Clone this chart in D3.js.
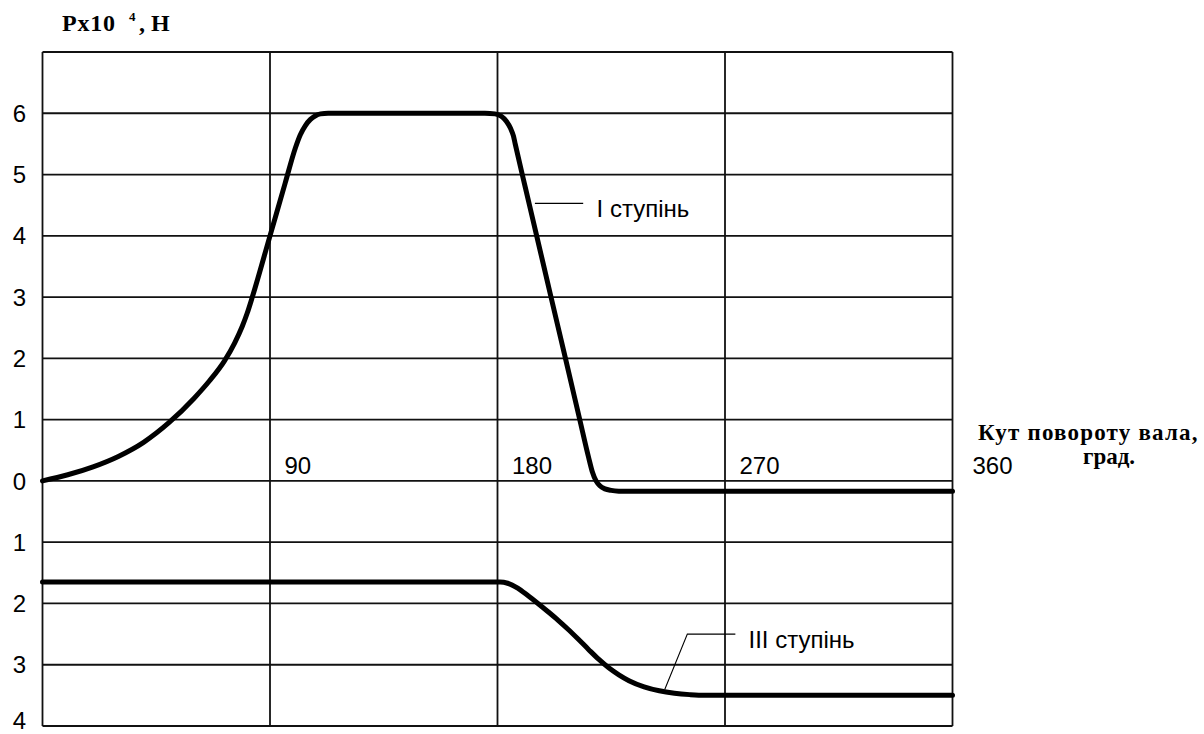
<!DOCTYPE html>
<html>
<head>
<meta charset="utf-8">
<script src="https://cdn.jsdelivr.net/npm/d3@7"></script>
<style>
  html, body { margin: 0; padding: 0; background: #fff; }
  svg { display: block; }
</style>
</head>
<body>
<svg id="chart" width="1204" height="734"></svg>
<script>
// Shaft rotation angle, degrees
const angleTicks = [90, 180, 270, 360];
// Force grid levels, x10^4 N (negative = below zero line)
const forceLevels = [-4, -3, -2, -1, 0, 1, 2, 3, 4, 5, 6, 7];
const forceTickLabels = [
  { v: 6, t: "6" }, { v: 5, t: "5" }, { v: 4, t: "4" }, { v: 3, t: "3" },
  { v: 2, t: "2" }, { v: 1, t: "1" }, { v: 0, t: "0" }, { v: -1, t: "1" },
  { v: -2, t: "2" }, { v: -3, t: "3" }, { v: -4, t: "4" }
];

// Stage I force vs angle
const stage1Angle = [0, 10, 20, 30, 40, 50, 60, 66, 72, 76, 79, 81, 83,
  90, 96, 100, 102, 104, 106, 108, 110, 113, 116, 150, 175, 179, 181.5, 183.5, 185.2, 186.3, 187,
  191, 195.5, 201, 207, 212.6, 216, 217.5, 219, 220.5, 222.5, 225, 228, 232, 270, 360];
const stage1Force = [0, 0.1, 0.23, 0.4, 0.63, 0.95, 1.35, 1.63, 1.96, 2.25, 2.52, 2.74, 3.0,
  4.0, 4.86, 5.43, 5.65, 5.8, 5.9, 5.96, 5.99, 6.0, 6.0, 6.0, 6.0, 5.99, 5.95, 5.87, 5.75, 5.63, 5.5,
  4.79, 4.0, 3.03, 1.98, 0.99, 0.39, 0.15, 0.0, -0.08, -0.13, -0.155, -0.167, -0.17, -0.17, -0.17];

// Stage III force vs angle
const stage3Angle = [0, 90, 178, 181, 184, 188, 192, 196, 200, 204, 208, 212, 216, 220,
  224, 228, 232, 238, 244, 250, 256, 262, 300, 360];
const stage3Force = [-1.65, -1.65, -1.65, -1.65, -1.67, -1.75, -1.87, -2.0, -2.135, -2.275, -2.425,
  -2.585, -2.75, -2.91, -3.05, -3.165, -3.26, -3.36, -3.425, -3.465, -3.488, -3.5, -3.5, -3.5];

const svg = d3.select("#chart");

const x = d3.scaleLinear().domain([0, 360]).range([42.5, 952.5]);
const y = d3.scaleLinear().domain([-4, 7]).range([726, 52]);

const sans = "Arial, 'Liberation Sans', Helvetica, sans-serif";
const serif = "'Times New Roman', 'Liberation Serif', serif";

// grid
const grid = svg.append("g").attr("stroke", "#111").attr("stroke-width", 1.8);
grid.selectAll("line.h").data(forceLevels).join("line")
  .attr("class", "h")
  .attr("x1", x(0)).attr("x2", x(360))
  .attr("y1", d => y(d)).attr("y2", d => y(d));
grid.selectAll("line.v").data([0].concat(angleTicks)).join("line")
  .attr("class", "v")
  .attr("x1", d => x(d)).attr("x2", d => x(d))
  .attr("y1", y(7)).attr("y2", y(-4));

// force tick labels on the left (the bottom one kept inside the frame)
svg.append("g").selectAll("text").data(forceTickLabels).join("text")
  .attr("x", 19.5).attr("y", d => Math.min(y(d.v) + 8.6, 729))
  .attr("text-anchor", "middle")
  .attr("font-family", sans).attr("font-size", 24)
  .attr("fill", "#000")
  .text(d => d.t);

// angle tick labels, right of each vertical line above the zero line
svg.append("g").selectAll("text").data(angleTicks).join("text")
  .attr("x", (d, i) => x(d) + (i === angleTicks.length - 1 ? 20 : 14.5))
  .attr("y", y(0) - 7)
  .attr("font-family", sans).attr("font-size", 24)
  .attr("fill", "#000")
  .text(d => d);

// curves
const line = d3.line()
  .x(d => x(d[0])).y(d => y(d[1]))
  .curve(d3.curveMonotoneX);

const curves = [d3.zip(stage1Angle, stage1Force), d3.zip(stage3Angle, stage3Force)];
svg.append("g").selectAll("path").data(curves).join("path")
  .attr("d", line)
  .attr("fill", "none")
  .attr("stroke", "#000")
  .attr("stroke-width", 5)
  .attr("stroke-linecap", "round")
  .attr("stroke-linejoin", "round");

// leader lines and stage labels
const leader = d3.line().x(d => x(d[0])).y(d => y(d[1]));
svg.append("path")
  .attr("d", leader([[194.8, 4.53], [213.9, 4.53]]))
  .attr("fill", "none").attr("stroke", "#000").attr("stroke-width", 1.1);
svg.append("path")
  .attr("d", leader([[246.2, -3.40], [255.1, -2.50], [274.1, -2.50]]))
  .attr("fill", "none").attr("stroke", "#000").attr("stroke-width", 1.1);

svg.append("text")
  .attr("x", x(219.2)).attr("y", y(4.31))
  .attr("font-family", sans).attr("font-size", 24).attr("fill", "#000")
  .text("I ступінь");
svg.append("text")
  .attr("x", x(279.3)).attr("y", y(-2.73))
  .attr("font-family", sans).attr("font-size", 24).attr("fill", "#000")
  .text("III ступінь");

// axis titles
const yTitle = svg.append("text")
  .attr("y", 31)
  .attr("font-family", serif).attr("font-weight", "bold").attr("font-size", 24)
  .attr("fill", "#000");
yTitle.append("tspan").attr("x", 62).attr("letter-spacing", 0.8).text("Px10");
yTitle.append("tspan").attr("x", 129).attr("dy", -10).attr("font-size", 13).text("4");
yTitle.append("tspan").attr("x", 139).attr("dy", 10).text(", H");

svg.append("text")
  .attr("x", 978).attr("y", 440)
  .attr("font-family", serif).attr("font-weight", "bold").attr("font-size", 23)
  .attr("letter-spacing", 1.2)
  .attr("fill", "#000")
  .text("Кут повороту вала,");
svg.append("text")
  .attr("x", 1083).attr("y", 464)
  .attr("font-family", serif).attr("font-weight", "bold").attr("font-size", 23)
  .attr("fill", "#000")
  .text("град.");
</script>
</body>
</html>
